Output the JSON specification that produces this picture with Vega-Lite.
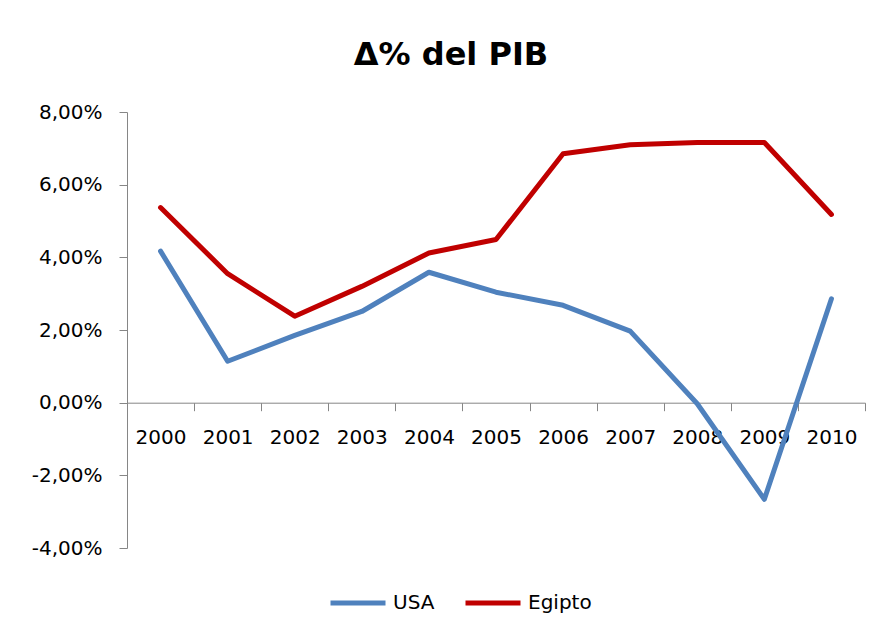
{
  "$schema": "https://vega.github.io/schema/vega-lite/v6.json",
  "width": 738,
  "height": 436,
  "autosize": {"type": "none"},
  "padding": {"left": 127, "top": 112, "right": 21, "bottom": 86},
  "background": "white",
  "title": {
    "text": "Δ% del PIB",
    "font": "DejaVu Sans",
    "fontSize": 32,
    "fontWeight": "bold",
    "color": "#000000",
    "anchor": "middle",
    "dx": -45,
    "offset": 30
  },
  "data": {
    "values": [
      {"year": 2000, "country": "USA", "value": 0.0417},
      {"year": 2001, "country": "USA", "value": 0.0114},
      {"year": 2002, "country": "USA", "value": 0.0185},
      {"year": 2003, "country": "USA", "value": 0.0251},
      {"year": 2004, "country": "USA", "value": 0.0359},
      {"year": 2005, "country": "USA", "value": 0.0304},
      {"year": 2006, "country": "USA", "value": 0.0268},
      {"year": 2007, "country": "USA", "value": 0.0197},
      {"year": 2008, "country": "USA", "value": -0.0003},
      {"year": 2009, "country": "USA", "value": -0.0266},
      {"year": 2010, "country": "USA", "value": 0.0286},
      {"year": 2000, "country": "Egipto", "value": 0.0537},
      {"year": 2001, "country": "Egipto", "value": 0.0355},
      {"year": 2002, "country": "Egipto", "value": 0.0238},
      {"year": 2003, "country": "Egipto", "value": 0.0320},
      {"year": 2004, "country": "Egipto", "value": 0.0412},
      {"year": 2005, "country": "Egipto", "value": 0.0449},
      {"year": 2006, "country": "Egipto", "value": 0.0685},
      {"year": 2007, "country": "Egipto", "value": 0.0710},
      {"year": 2008, "country": "Egipto", "value": 0.0716},
      {"year": 2009, "country": "Egipto", "value": 0.0716},
      {"year": 2010, "country": "Egipto", "value": 0.0518}
    ]
  },
  "mark": {"type": "line", "strokeWidth": 5, "strokeCap": "round", "strokeJoin": "round"},
  "encoding": {
    "x": {
      "field": "year",
      "type": "quantitative",
      "scale": {"domain": [1999.5, 2010.5], "nice": false, "zero": false},
      "axis": {
        "title": null,
        "values": [1999.5, 2000, 2000.5, 2001, 2001.5, 2002, 2002.5, 2003, 2003.5, 2004, 2004.5, 2005, 2005.5, 2006, 2006.5, 2007, 2007.5, 2008, 2008.5, 2009, 2009.5, 2010, 2010.5],
        "labelExpr": "datum.value % 1 == 0 ? format(datum.value, 'd') : ''",
        "labelOverlap": false,
        "labelFlush": false,
        "labelFont": "DejaVu Sans",
        "labelFontSize": 20,
        "labelColor": "#000000",
        "labelPadding": 17,
        "tickSize": 8,
        "tickColor": "#868686",
        "tickOpacity": {"condition": {"test": "datum.value % 1 != 0", "value": 1}, "value": 0},
        "domainColor": "#868686",
        "domainWidth": 1,
        "grid": false,
        "offset": -145.3
      }
    },
    "y": {
      "field": "value",
      "type": "quantitative",
      "scale": {"domain": [-0.04, 0.08], "nice": false},
      "axis": {
        "title": null,
        "values": [-0.04, -0.02, 0, 0.02, 0.04, 0.06, 0.08],
        "labelExpr": "replace(replace(format(datum.value, '.2%'), '.', ','), '−', '-')",
        "labelFont": "DejaVu Sans",
        "labelFontSize": 20,
        "labelColor": "#000000",
        "labelPadding": 17,
        "tickSize": 8,
        "tickColor": "#868686",
        "domainColor": "#868686",
        "grid": false
      }
    },
    "color": {
      "field": "country",
      "type": "nominal",
      "scale": {"domain": ["USA", "Egipto"], "range": ["#4F81BD", "#C00000"]},
      "legend": {
        "title": null,
        "orient": "none",
        "direction": "horizontal",
        "legendX": 201,
        "legendY": 461,
        "symbolType": "stroke",
        "symbolSize": 3025,
        "symbolStrokeWidth": 5,
        "labelFont": "DejaVu Sans",
        "labelFontSize": 20,
        "labelColor": "#000000",
        "labelOffset": 5,
        "columnPadding": 20
      }
    }
  },
  "config": {
    "view": {"stroke": null}
  }
}
